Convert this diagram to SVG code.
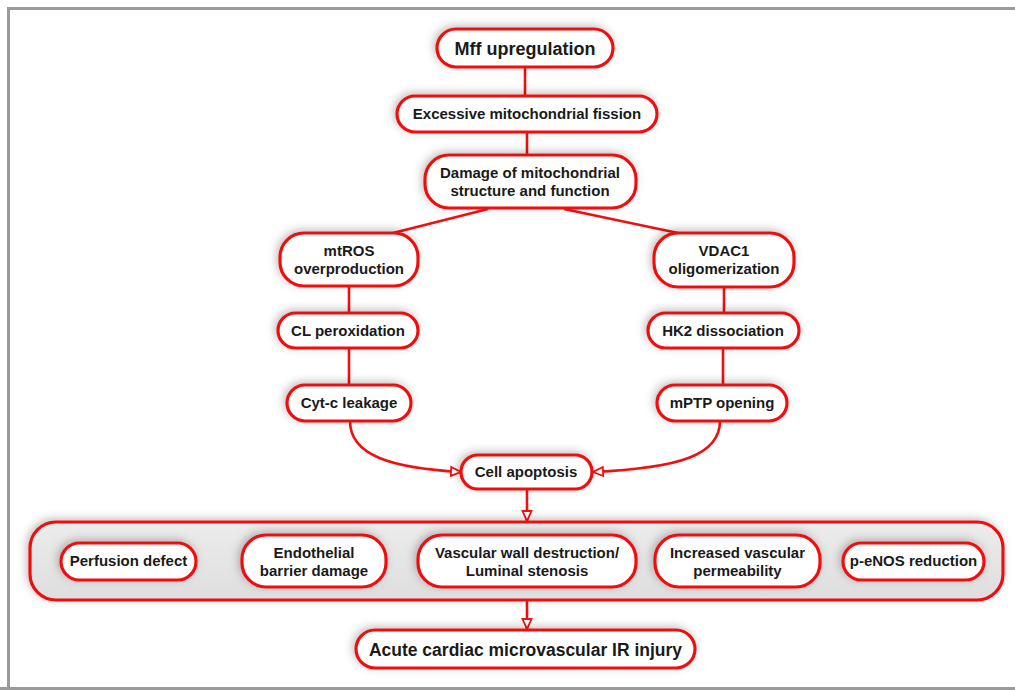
<svg xmlns="http://www.w3.org/2000/svg" width="1015" height="690" viewBox="0 0 1015 690">
<defs>
<style>
.n{fill:#fff;stroke:#f01010;stroke-width:3.2}
.t{font-family:"Liberation Sans",Arial,sans-serif;font-weight:bold;font-size:15px;fill:#1a1a1a;text-anchor:middle}
.c{fill:none;stroke:#f01010;stroke-width:2.6}
</style>
<filter id="sh" x="-20%" y="-30%" width="140%" height="160%">
<feDropShadow dx="-2" dy="-2" stdDeviation="4" flood-color="#000" flood-opacity="0.25"/>
</filter>
<linearGradient id="bg" x1="0" y1="0" x2="0" y2="1">
<stop offset="0" stop-color="#ececec"/>
<stop offset="1" stop-color="#dedede"/>
</linearGradient>
<marker id="ah" viewBox="0 0 12 12" refX="11" refY="6" markerWidth="12" markerHeight="12" markerUnits="userSpaceOnUse" orient="auto">
<path d="M1,1.5 L11,6 L1,10.5 Z" fill="#fff" stroke="#f01010" stroke-width="1.8"/>
</marker>
</defs>
<rect x="0" y="0" width="1015" height="690" fill="#fff"/>
<path d="M8.5,1000 V8.5 H1020 M0,688.5 H1020" fill="none" stroke="#9a9a9a" stroke-width="3"/>

<g id="connectors">
<path class="c" d="M525,67 V96"/>
<path class="c" d="M527,132 V155"/>
<path class="c" d="M488,209 L393,233"/>
<path class="c" d="M564,209 L678,233"/>
<path class="c" d="M349,286 V313"/>
<path class="c" d="M349,348 V385"/>
<path class="c" d="M724,287 V313"/>
<path class="c" d="M723,348 V385"/>
<path class="c" d="M350,421 C350,455 390,468 461,472" marker-end="url(#ah)"/>
<path class="c" d="M720,421 C720,455 680,468 593,472" marker-end="url(#ah)"/>
<path class="c" d="M527,489 V521" marker-end="url(#ah)"/>
<path class="c" d="M527,600 V629" marker-end="url(#ah)"/>
</g>

<g id="effects">
<rect x="30" y="522" width="973" height="78" rx="26" fill="url(#bg)" stroke="#f01010" stroke-width="3.2" filter="url(#sh)"/>
</g>

<g id="mff"><rect class="n" x="437" y="29" width="176" height="38" rx="19" filter="url(#sh)"/><text class="t" x="525" y="55" style="font-size:18px">Mff upregulation</text></g>
<g id="fission"><rect class="n" x="397" y="96" width="260" height="36" rx="18" filter="url(#sh)"/><text class="t" x="527" y="119">Excessive mitochondrial fission</text></g>
<g id="damage"><rect class="n" x="425" y="155" width="211" height="53" rx="24" filter="url(#sh)"/><text class="t" x="530" y="178">Damage of mitochondrial</text><text class="t" x="530" y="196">structure and function</text></g>
<g id="mtros"><rect class="n" x="280" y="233" width="138" height="53" rx="24" filter="url(#sh)"/><text class="t" x="349" y="256">mtROS</text><text class="t" x="349" y="274">overproduction</text></g>
<g id="vdac1"><rect class="n" x="654" y="233" width="140" height="54" rx="24" filter="url(#sh)"/><text class="t" x="724" y="256">VDAC1</text><text class="t" x="724" y="274">oligomerization</text></g>
<g id="cl"><rect class="n" x="278" y="313" width="140" height="35" rx="17.5" filter="url(#sh)"/><text class="t" x="348" y="336">CL peroxidation</text></g>
<g id="hk2"><rect class="n" x="648" y="313" width="151" height="35" rx="17.5" filter="url(#sh)"/><text class="t" x="723" y="336">HK2 dissociation</text></g>
<g id="cytc"><rect class="n" x="287" y="385" width="124" height="36" rx="18" filter="url(#sh)"/><text class="t" x="349" y="408">Cyt-c leakage</text></g>
<g id="mptp"><rect class="n" x="657" y="385" width="130" height="36" rx="18" filter="url(#sh)"/><text class="t" x="722" y="408">mPTP opening</text></g>
<g id="apoptosis"><rect class="n" x="461" y="455" width="131" height="34" rx="17" filter="url(#sh)"/><text class="t" x="526" y="477">Cell apoptosis</text></g>

<g id="perfusion"><rect class="n" x="61" y="543" width="135" height="37" rx="18.5" filter="url(#sh)"/><text class="t" x="128.5" y="566">Perfusion defect</text></g>
<g id="endothelial"><rect class="n" x="242" y="535" width="144" height="52" rx="24" filter="url(#sh)"/><text class="t" x="314" y="558">Endothelial</text><text class="t" x="314" y="576">barrier damage</text></g>
<g id="vascular"><rect class="n" x="418" y="535" width="218" height="52" rx="24" filter="url(#sh)"/><text class="t" x="527" y="558">Vascular wall destruction/</text><text class="t" x="527" y="576">Luminal stenosis</text></g>
<g id="permeability"><rect class="n" x="655" y="535" width="165" height="52" rx="24" filter="url(#sh)"/><text class="t" x="737.5" y="558">Increased vascular</text><text class="t" x="737.5" y="576">permeability</text></g>
<g id="enos"><rect class="n" x="843" y="543" width="141" height="37" rx="18.5" filter="url(#sh)"/><text class="t" x="913.5" y="566">p-eNOS reduction</text></g>

<g id="acute"><rect class="n" x="356" y="630" width="339" height="38" rx="19" filter="url(#sh)"/><text class="t" x="525.5" y="656" style="font-size:17.5px">Acute cardiac microvascular IR injury</text></g>
</svg>
